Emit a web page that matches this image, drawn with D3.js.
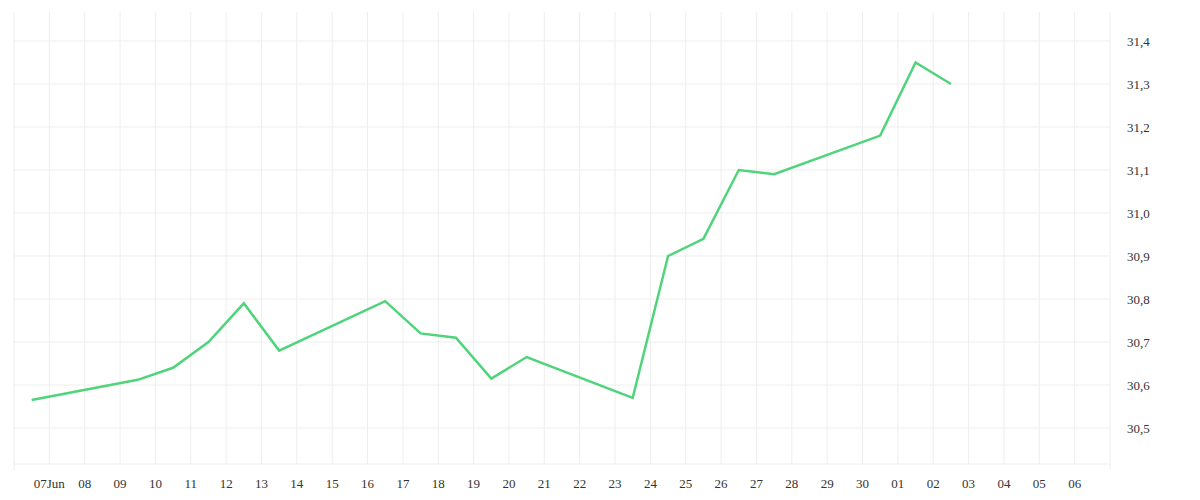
<!DOCTYPE html>
<html><head><meta charset="utf-8">
<script src="https://cdn.jsdelivr.net/npm/d3@7"></script>
<style>body{margin:0;background:#fff}text{font-family:"Liberation Serif",serif;font-size:13px;fill:#333}</style>
</head><body><svg id="chart" width="1200" height="500"></svg>
<script>
// dates (noon of each trading day) and rate values
const dates = ['2025-06-06','2025-06-09','2025-06-10','2025-06-11','2025-06-12','2025-06-13',
  '2025-06-16','2025-06-17','2025-06-18','2025-06-19','2025-06-20',
  '2025-06-23','2025-06-24','2025-06-25','2025-06-26','2025-06-27',
  '2025-06-30','2025-07-01','2025-07-02'];
const values = [30.565,30.612,30.64,30.70,30.79,30.68,30.795,30.72,30.71,30.615,30.665,
  30.57,30.90,30.94,31.10,31.09,31.18,31.35,31.30];
const yTicks = [30.5,30.6,30.7,30.8,30.9,31.0,31.1,31.2,31.3,31.4];

const parse = d3.timeParse('%Y-%m-%d');
const pts = dates.map((d,i)=>({t:d3.timeHour.offset(parse(d),12), v:values[i]}));

const mLeft=14, mRight=1110, mTop=12, mBottom=464;
const svg = d3.select('#chart');
const x = d3.scaleTime().domain([parse('2025-06-06'), parse('2025-07-07')]).range([mLeft,mRight]);
const y = d3.scaleLinear().domain([30.4163,31.4674]).range([mBottom,mTop]);

const days = d3.timeDay.range(parse('2025-06-07'), parse('2025-07-07'));

// grid
svg.append('g').selectAll('line').data(days).join('line')
  .attr('x1',d=>x(d)).attr('x2',d=>x(d)).attr('y1',mTop).attr('y2',mBottom)
  .attr('stroke','#eee');
svg.append('g').selectAll('line').data(yTicks.concat([y.invert(mBottom)])).join('line')
  .attr('x1',mLeft).attr('x2',mRight).attr('y1',d=>y(d)).attr('y2',d=>y(d))
  .attr('stroke','#eee');
svg.append('line').attr('x1',mLeft).attr('x2',mLeft).attr('y1',mTop).attr('y2',mBottom+6).attr('stroke','#eee');
svg.append('line').attr('x1',mRight).attr('x2',mRight).attr('y1',mTop).attr('y2',mBottom+6).attr('stroke','#eee');

// x labels
const fmt = d3.timeFormat('%d');
svg.append('g').selectAll('text').data(days).join('text')
  .attr('x',d=>x(d)).attr('y',488).attr('text-anchor','middle')
  .text((d,i)=> i===0 ? fmt(d)+'Jun' : fmt(d));

// y labels
svg.append('g').selectAll('text').data(yTicks).join('text')
  .attr('x',1127).attr('y',d=>y(d)+5)
  .text(d=>d3.format('.1f')(d).replace('.',','));

// line
svg.append('path').datum(pts)
  .attr('fill','none').attr('stroke','#4fd47b').attr('stroke-width',2.5)
  .attr('d', d3.line().x(d=>x(d.t)).y(d=>y(d.v)));
</script></body></html>
